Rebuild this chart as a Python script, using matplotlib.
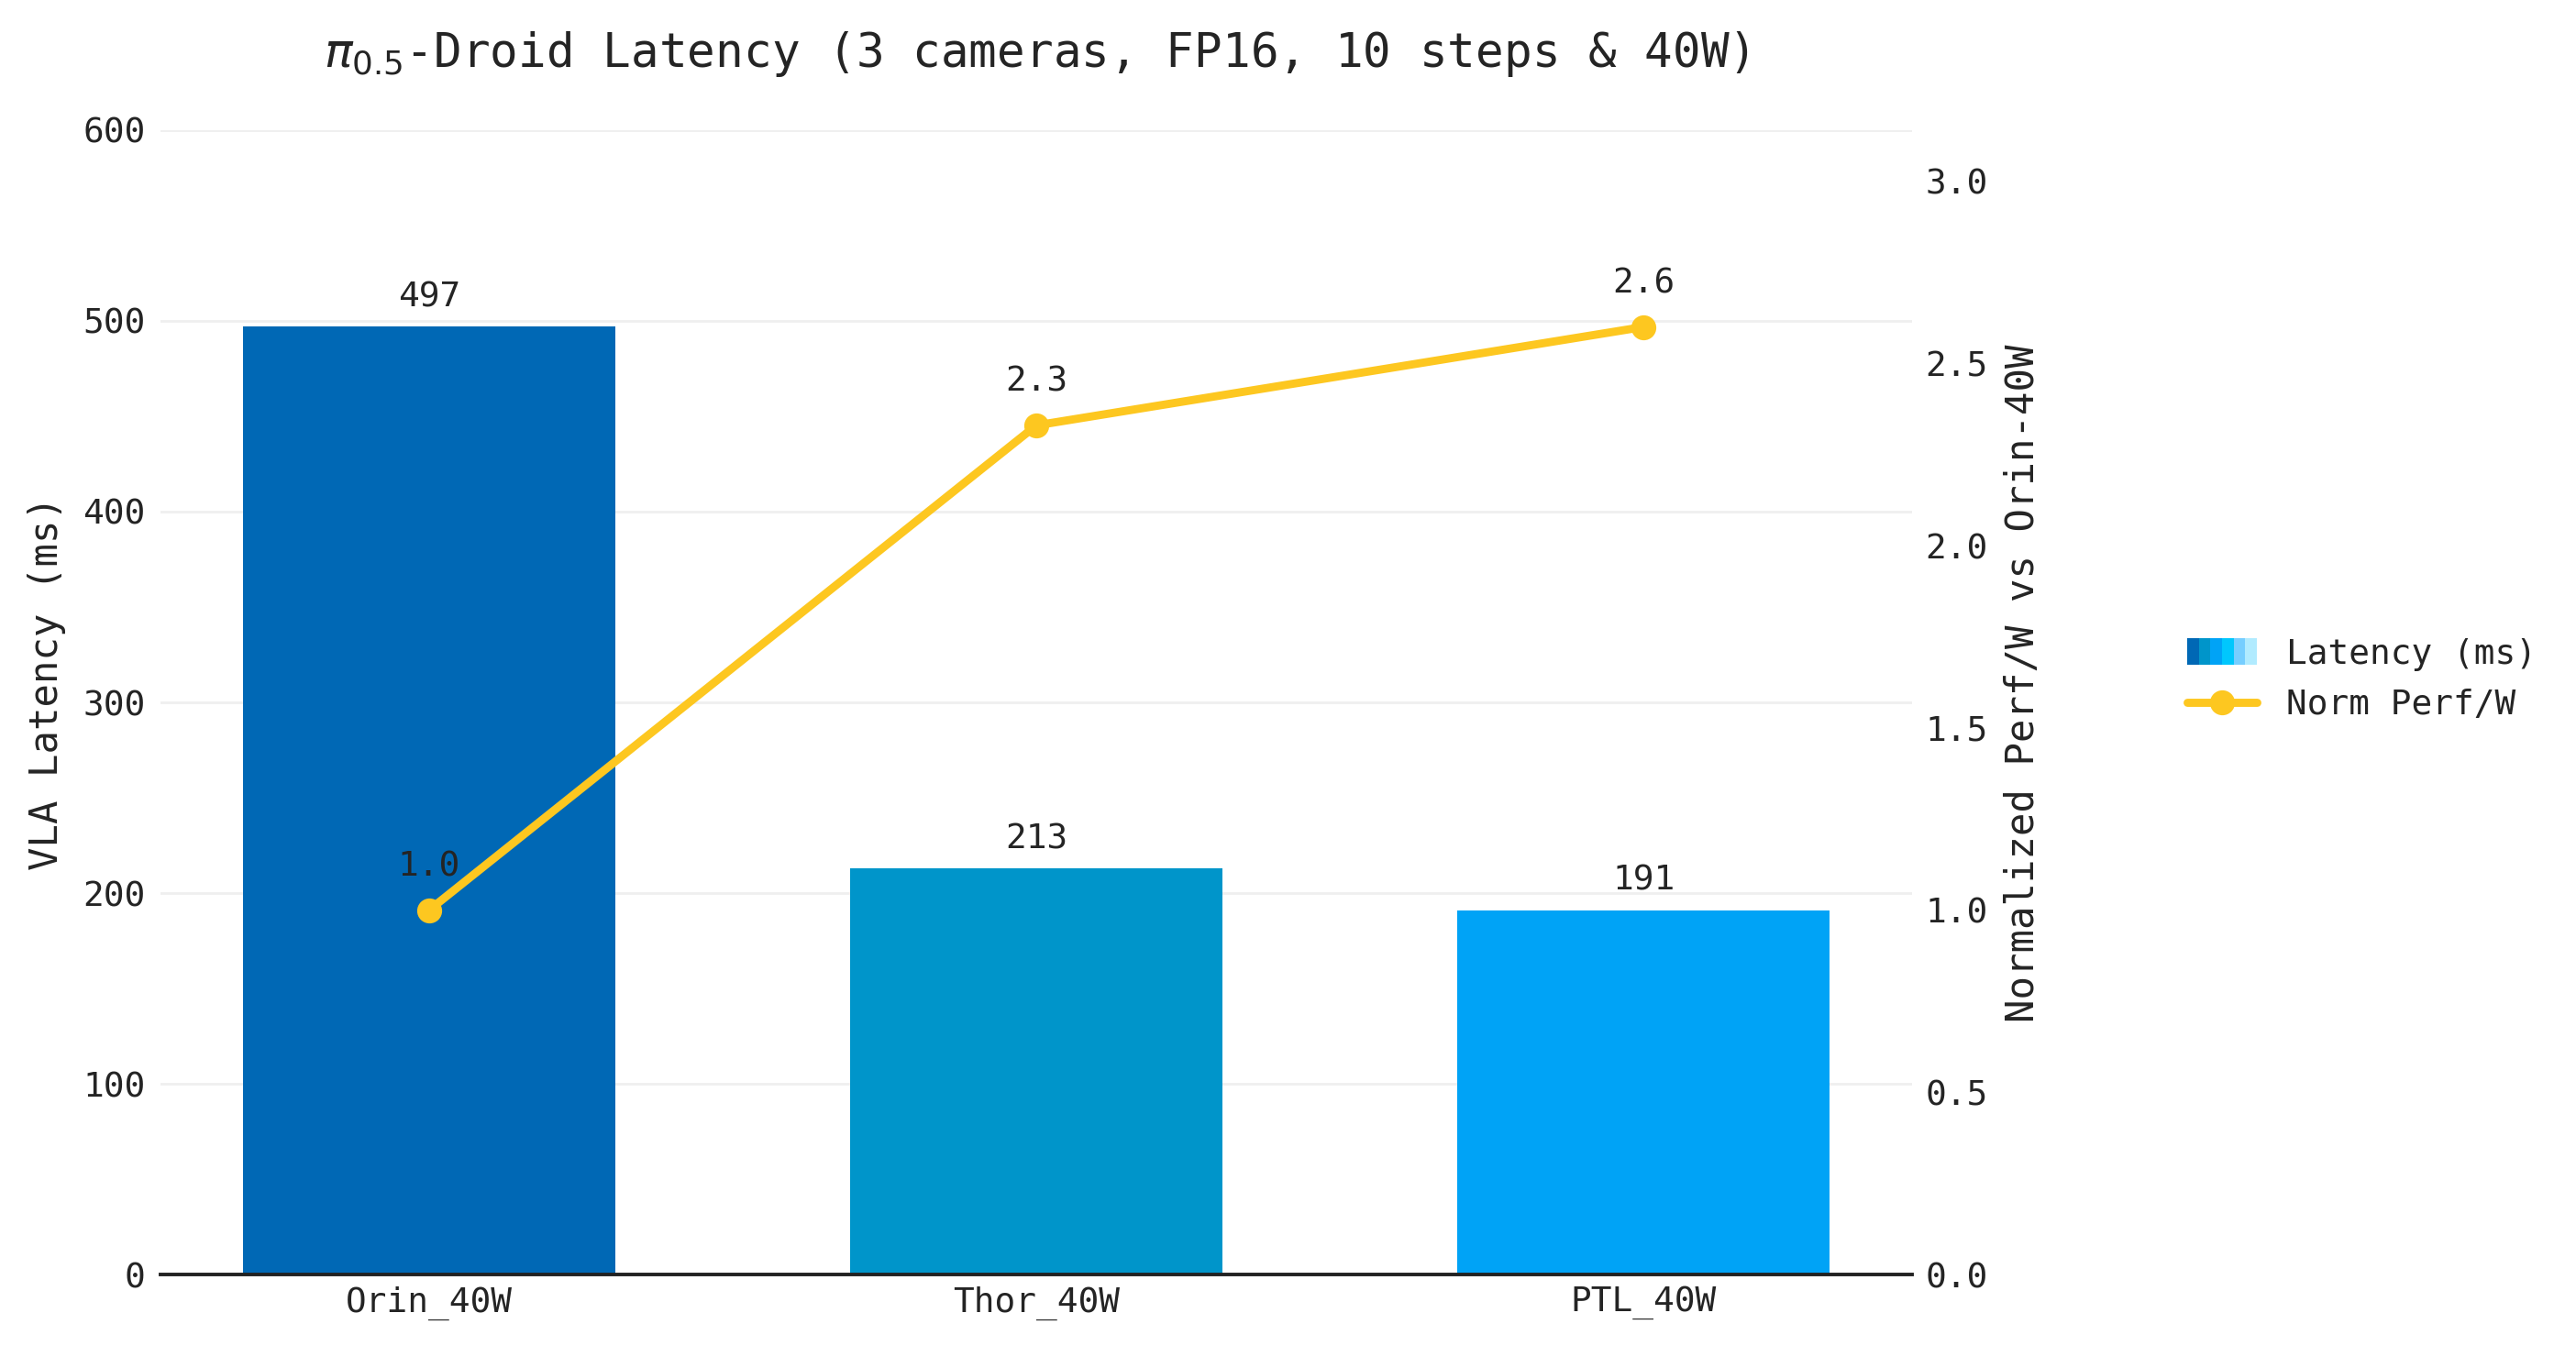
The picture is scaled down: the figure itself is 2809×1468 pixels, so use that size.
import matplotlib
matplotlib.use("Agg")
import matplotlib.pyplot as plt
from matplotlib.patches import Rectangle
from matplotlib.legend_handler import HandlerBase
from matplotlib.lines import Line2D

categories = ["Orin_40W", "Thor_40W", "PTL_40W"]
latency_ms = [497, 213, 191]
norm_perf_w = [1.0, 2.33, 2.60]
norm_labels = ["1.0", "2.3", "2.6"]
bar_colors = ["#0068B5", "#0095CA", "#00A3F6"]
legend_gradient = ["#0068B5", "#0095CA", "#00A3F6", "#00C7FD", "#76CEFF", "#B1EBFF"]
line_color = "#FDC720"
text_color = "#242424"

plt.rcParams['font.family'] = ['DejaVu Sans Mono', 'DejaVu Sans']
plt.rcParams['mathtext.fontset'] = 'dejavusans'
plt.rcParams['text.color'] = text_color

FS = 13.6
LW = 3.2
MS = 8.8

fig = plt.figure(figsize=(2809/200, 1468/200), dpi=200)
ax = fig.add_axes([0.0623, 0.0531, 0.6800, 0.8502])
ax2 = ax.twinx()

x = list(range(len(categories)))
bars = ax.bar(x, latency_ms, width=0.614, color=bar_colors, zorder=2)
ax.set_xlim(-0.4425, 2.4425)
ax.set_ylim(0, 600)
ax.set_yticks([0, 100, 200, 300, 400, 500, 600])
ax.set_xticks(x)
ax.set_xticklabels(categories)
ax.grid(axis='y', color='#EFEFEF', linewidth=1.0, zorder=0)
ax.set_axisbelow(True)
for s in ['top', 'left', 'right']:
    ax.spines[s].set_visible(False)
ax.spines['bottom'].set_color('#222222')
ax.spines['bottom'].set_linewidth(1.4)
ax.spines['bottom'].set_zorder(5)
ax.tick_params(axis='both', length=0, labelsize=FS, colors=text_color)
ax.tick_params(axis='y', pad=6)
ax.tick_params(axis='x', pad=4.5)
ax.set_ylabel("VLA Latency (ms)", fontsize=15.2, color=text_color)
ax.yaxis.label.set_va('center')
ax.yaxis.set_label_coords(-0.0650, 0.517)

for xi, v in zip(x, latency_ms):
    ax.annotate(f"{v}", (xi, v), xytext=(0, 5), textcoords='offset points',
                ha='center', va='bottom', fontsize=FS, color=text_color)

ax2.plot(x, norm_perf_w, color=line_color, linewidth=LW, marker='o',
         markersize=MS, zorder=3)
ax2.set_ylim(0, 3.14)
ax2.set_yticks([0.0, 0.5, 1.0, 1.5, 2.0, 2.5, 3.0])
ax2.set_yticklabels([f"{t:.1f}" for t in [0.0, 0.5, 1.0, 1.5, 2.0, 2.5, 3.0]])
for s in ['top', 'left', 'right', 'bottom']:
    ax2.spines[s].set_visible(False)
ax2.tick_params(axis='y', length=0, labelsize=FS, colors=text_color, pad=5)
ax2.set_ylabel("Normalized Perf/W vs Orin-40W", fontsize=15.2, color=text_color)
ax2.yaxis.label.set_va('center')
ax2.yaxis.set_label_coords(1.0635, 0.517)
for xi, v, lab in zip(x, norm_perf_w, norm_labels):
    ax2.annotate(lab, (xi, v), xytext=(0, 10.5), textcoords='offset points',
                 ha='center', va='bottom', fontsize=FS, color=text_color)

ax.set_title(r"$\pi_{0.5}$-Droid Latency (3 cameras, FP16, 10 steps & 40W)",
             fontsize=18.35, color=text_color, pad=25)


class GradientHandler(HandlerBase):
    def __init__(self, colors, **kw):
        super().__init__(**kw)
        self.colors = colors

    def create_artists(self, legend, orig_handle, xdescent, ydescent, width, height, fontsize, trans):
        n = len(self.colors)
        w = width / n
        h = height * 1.1
        y0 = -ydescent - (h - height) / 2
        arts = []
        for i, c in enumerate(self.colors):
            r = Rectangle((-xdescent + i * w, y0), w, h, facecolor=c,
                          edgecolor='none', transform=trans)
            arts.append(r)
        return arts


bar_handle = Rectangle((0, 0), 1, 1)
line_handle = Line2D([], [], color=line_color, linewidth=LW, marker='o', markersize=MS,
                     solid_capstyle='round')
leg = fig.legend([bar_handle, line_handle], ["Latency (ms)", "Norm Perf/W"],
                 handler_map={bar_handle: GradientHandler(legend_gradient)},
                 loc='center left', bbox_to_anchor=(0.837, 0.495), frameon=False,
                 fontsize=FS, handlelength=2.0, handletextpad=0.85, labelspacing=0.5)

fig.savefig("out.png", dpi=200, facecolor='white')
